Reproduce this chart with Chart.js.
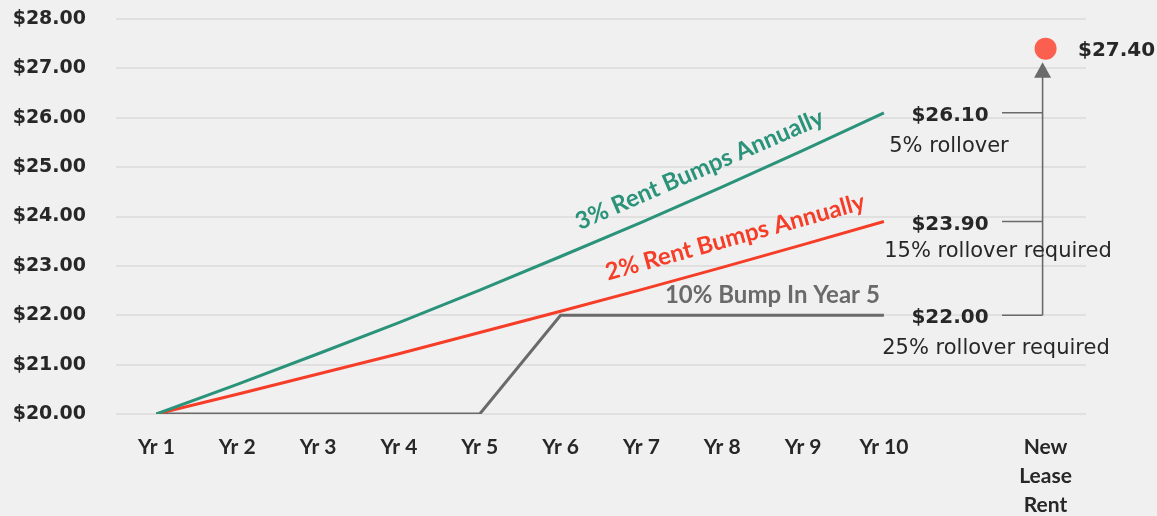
<!DOCTYPE html>
<html>
<head>
<meta charset="utf-8">
<script src="https://cdn.jsdelivr.net/npm/chart.js@4"></script>
<style>
  html, body { margin: 0; padding: 0; background: #f0f0f0; }
  #wrap { width: 1157px; height: 516px; }
</style>
</head>
<body>
<div id="wrap"><canvas id="rentChart" width="1157" height="516"></canvas></div>
<script>
// rent growth comparison

const categories = ['Yr 1', 'Yr 2', 'Yr 3', 'Yr 4', 'Yr 5', 'Yr 6', 'Yr 7', 'Yr 8', 'Yr 9', 'Yr 10', '', ['New', 'Lease', 'Rent']];
const threePctBumps = [20.00, 20.60, 21.22, 21.85, 22.51, 23.19, 23.88, 24.60, 25.34, 26.10, null, null];
const twoPctBumps = [20.00, 20.40, 20.81, 21.22, 21.65, 22.08, 22.52, 22.97, 23.43, 23.90, null, null];
const bumpYear5 = [20.00, 20.00, 20.00, 20.00, 20.00, 22.00, 22.00, 22.00, 22.00, 22.00, null, null];
const newLeaseRent = [null, null, null, null, null, null, null, null, null, null, null, 27.40];

const yMin = 20;
const yMax = 28;

const endValues = [26.10, 23.90, 22.00];
const endLabels = ['$26.10', '$23.90', '$22.00'];
const rolloverNotes = ['5% rollover', '15% rollover required', '25% rollover required'];
const newLeaseLabel = '$27.40';

const seriesNames = ['3% Rent Bumps Annually', '2% Rent Bumps Annually', '10% Bump In Year 5'];

const TEAL = '#2a937a';
const RED = '#f53d27';
const GREY = '#6a6a6a';
const DOT = '#fa5f50';
const INK = '#272727';

// text and arrow drawn on top of the lines
const annotations = {
    id: 'annotations',
    afterDatasetsDraw(chart) {
        const ctx = chart.ctx;
        const x = chart.scales.x;
        const y = chart.scales.y;
        ctx.save();

        // rotated series labels
        const seriesText = [
            { text: seriesNames[0], at: [6.72, 24.95], angle: -23.5, color: TEAL },
            { text: seriesNames[1], at: [7.16, 23.58], angle: -15.5, color: RED },
            { text: seriesNames[2], at: [7.62, 22.40], angle: 0, color: GREY }
        ];
        ctx.textAlign = 'center';
        ctx.textBaseline = 'middle';
        seriesText.forEach(function(s) {
            ctx.save();
            ctx.translate(x.getPixelForValue(s.at[0]), y.getPixelForValue(s.at[1]));
            ctx.rotate(s.angle * Math.PI / 180);
            ctx.fillStyle = s.color;
            ctx.font = 'bold 24px Lato';
            ctx.fillText(s.text, 0, 0);
            ctx.restore();
        });

        // arrow from the $22.00 level up to the new lease dot
        const dotX = x.getPixelForValue(11);
        const dotY = y.getPixelForValue(newLeaseRent[11]);
        const arrowX = dotX - 3;
        const tipY = dotY + 13.5;
        ctx.strokeStyle = GREY;
        ctx.lineWidth = 1.6;
        ctx.beginPath();
        ctx.moveTo(arrowX, y.getPixelForValue(endValues[2]));
        ctx.lineTo(arrowX, tipY + 14);
        ctx.stroke();
        ctx.fillStyle = GREY;
        ctx.beginPath();
        ctx.moveTo(arrowX, tipY);
        ctx.lineTo(arrowX - 8.5, tipY + 15.5);
        ctx.lineTo(arrowX + 8.5, tipY + 15.5);
        ctx.closePath();
        ctx.fill();

        // end value labels and connectors
        const noteX = [949, 998, 996];
        const noteDy = [34, 30, 33];
        endValues.forEach(function(v, i) {
            const py = y.getPixelForValue(v);
            ctx.beginPath();
            ctx.moveTo(1002, py);
            ctx.lineTo(arrowX, py);
            ctx.stroke();

            ctx.fillStyle = INK;
            ctx.textAlign = 'center';
            ctx.font = 'bold 20px "DejaVu Sans"';
            ctx.fillText(endLabels[i], 950, py + 3);
            ctx.font = '21px "DejaVu Sans"';
            ctx.fillText(rolloverNotes[i], noteX[i], py + noteDy[i]);
        });

        ctx.textAlign = 'left';
        ctx.fillStyle = INK;
        ctx.font = 'bold 20px "DejaVu Sans"';
        ctx.fillText(newLeaseLabel, 1078, dotY + 2);

        ctx.restore();
    }
};

const ctx = document.getElementById('rentChart').getContext('2d');

new Chart(ctx, {
    type: 'line',
    data: {
        labels: categories,
        datasets: [{
                label: seriesNames[0],
                data: threePctBumps,
                borderColor: TEAL,
                borderWidth: 3,
                pointRadius: 0
            },
            {
                label: seriesNames[1],
                data: twoPctBumps,
                borderColor: RED,
                borderWidth: 3,
                pointRadius: 0
            },
            {
                label: seriesNames[2],
                data: bumpYear5,
                borderColor: GREY,
                borderWidth: 3,
                pointRadius: 0
            },
            {
                label: 'New Lease Rent',
                data: newLeaseRent,
                showLine: false,
                pointRadius: 11,
                pointBackgroundColor: DOT,
                pointBorderWidth: 0
            }
        ]
    },
    options: {
        responsive: false,
        maintainAspectRatio: false,
        animation: false,
        layout: {
            padding: { top: 19, right: 71, bottom: 0, left: 0 }
        },
        plugins: {
            legend: { display: false },
            tooltip: { enabled: false }
        },
        scales: {
            x: {
                offset: true,
                grid: { display: false, drawTicks: false },
                border: { display: false },
                ticks: {
                    color: INK,
                    padding: 19,
                    maxRotation: 0,
                    autoSkip: false,
                    font: { family: 'Lato', weight: 'bold', size: 21, lineHeight: '29px' }
                },
                afterFit: function(scale) { scale.height = 102; }
            },
            y: {
                min: yMin,
                max: yMax,
                grid: { color: '#e0e0e0', lineWidth: 2, drawTicks: false },
                border: { display: false },
                ticks: {
                    stepSize: 1,
                    color: INK,
                    padding: 30,
                    font: { family: 'DejaVu Sans', weight: 'bold', size: 19 },
                    callback: function(v) { return '$' + v.toFixed(2); }
                },
                afterFit: function(scale) {
                    scale.width = 116;
                    scale.paddingTop = 0;
                    scale.paddingBottom = 0;
                }
            }
        }
    },
    plugins: [annotations]
});
</script>
</body>
</html>
